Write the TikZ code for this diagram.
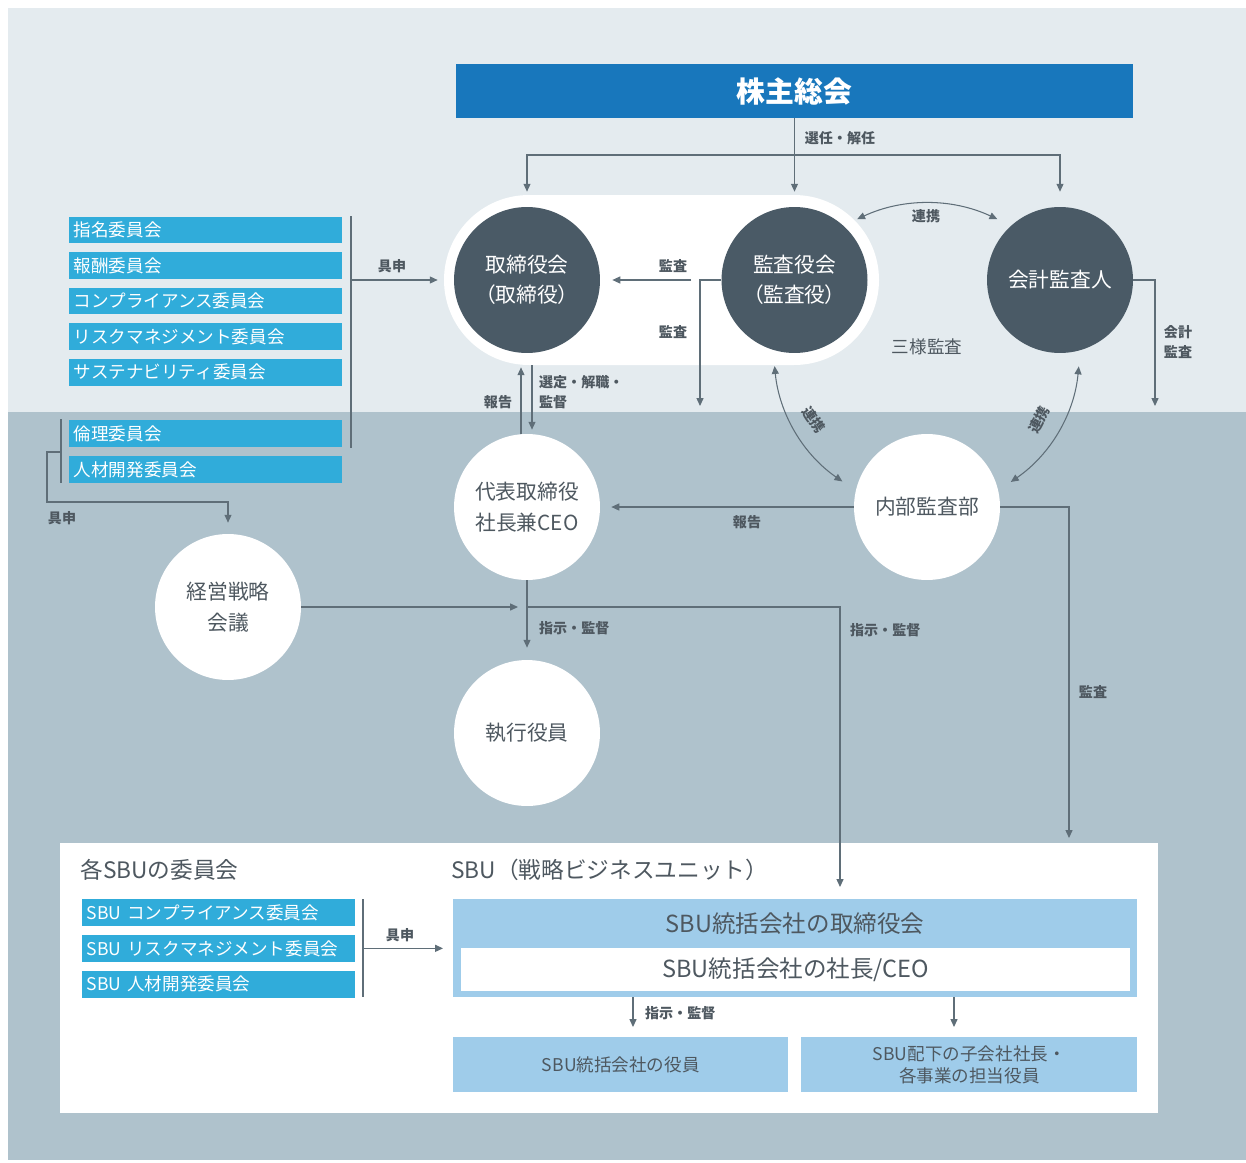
\documentclass[tikz,border=0pt]{standalone}
\usepackage{fontspec}
\setmainfont{Noto Sans CJK JP}
\newfontfamily\jpprop{Noto Sans CJK JP}[RawFeature=+palt]
\usetikzlibrary{arrows.meta,positioning}
\definecolor{topbg}{HTML}{E4EBEF}
\definecolor{lowbg}{HTML}{AFC2CC}
\definecolor{headblue}{HTML}{1877BC}
\definecolor{cmtblue}{HTML}{30ACDA}
\definecolor{darkgrey}{HTML}{4A5A66}
\definecolor{sbublue}{HTML}{9FCCEA}
\definecolor{txtgrey}{HTML}{4E5860}
\definecolor{lngrey}{HTML}{5F6E78}
\tikzset{
  ln/.style={draw=lngrey, line width=0.6pt},
  tip/.style={ln, -{Triangle[length=4.5pt,width=4pt]}},
  tw/.style={ln, {Triangle[length=4.5pt,width=4pt]}-{Triangle[length=4.5pt,width=4pt]}},
  headbox/.style={fill=headblue, text=white, minimum width=13.54cm, minimum height=1.08cm, inner sep=0pt, font=\fontsize{16.4}{18}\selectfont\bfseries},
  darkcirc/.style={circle, fill=darkgrey, text=white, minimum size=2.92cm, inner sep=0pt, align=center, font=\jpprop\fontsize{11.8}{17}\selectfont},
  whitecirc/.style={circle, fill=white, text=txtgrey, minimum size=2.92cm, inner sep=0pt, align=center, font=\fontsize{11.8}{17.5}\selectfont},
  cmt/.style={fill=cmtblue, text=white, anchor=west, minimum height=0.54cm, inner ysep=0pt, inner xsep=0.09cm, text width=5.28cm, align=left, font=\fontsize{10}{12}\selectfont},
  lbl/.style={text=txtgrey, inner sep=1pt, font=\fontsize{8}{11.3}\selectfont\bfseries},
  sectitle/.style={text=txtgrey, anchor=west, inner sep=0pt, font=\fontsize{12.9}{15}\selectfont},
  sbubox/.style={fill=sbublue, text=txtgrey, anchor=north west, inner sep=0pt, align=center},
  boardtxt/.style={text=txtgrey, font=\fontsize{13.4}{16}\selectfont},
  smalltxt/.style={font=\fontsize{10}{13}\selectfont}
}
\begin{document}
\begin{tikzpicture}[x=0.02cm, y=-0.02cm]
\useasboundingbox (0,0) rectangle (1246,1162);
% background bands
\fill[topbg] (8,8) rectangle (1246,412);
\fill[lowbg] (8,412) rectangle (1246,1160);
\fill[white, rounded corners=1.7cm] (444,195) rectangle (879,365);
\fill[white] (60,843) rectangle (1158,1113);

% main bodies
\node[headbox] (kabu) at (794.5,91) {株主総会};
\node[darkcirc] (tori) at (527,280) {取締役会\\（取締役）};
\node[darkcirc] (kansa) at (794.5,280) {監査役会\\（監査役）};
\node[darkcirc] (kaikei) at (1060,280) {会計監査人};
\node[whitecirc] (ceo) at (527,507) {代表取締役\\社長兼CEO};
\node[whitecirc] (naibu) at (927,507) {内部監査部};
\node[whitecirc] (keiei) at (228,607) {経営戦略\\会議};
\node[whitecirc] (shikkou) at (527,733) {執行役員};

% committees
\foreach \t [count=\i] in {指名委員会,報酬委員会,コンプライアンス委員会,リスクマネジメント委員会,サステナビリティ委員会}
  \node[cmt] (c\i) at (69,194.5+35.5*\i) {\t};
\node[cmt] (c6) at (69,433.5) {倫理委員会};
\node[cmt] (c7) at (69,469.5) {人材開発委員会};

% SBU part
\node[sectitle] (sbucmt) at (80,870) {各SBUの委員会};
\node[sectitle] (sbutitle) at (451,870) {SBU（戦略ビジネスユニット）};
\node[cmt] (s1) at (82,912.5) {SBU コンプライアンス委員会};
\node[cmt] (s2) at (82,948.5) {SBU リスクマネジメント委員会};
\node[cmt] (s3) at (82,984) {SBU 人材開発委員会};
\node[sbubox, minimum width=13.68cm, minimum height=1.96cm] (sbuboard) at (453,899) {};
\node[boardtxt] (boardname) at (795,924) {SBU統括会社の取締役会};
\node[boardtxt, fill=white, anchor=north west, minimum width=13.38cm, minimum height=0.86cm, inner sep=0pt] (sbuceo) at (461,948) {SBU統括会社の社長/CEO};
\node[sbubox, smalltxt, minimum width=6.7cm, minimum height=1.1cm] (sbuoff) at (453,1037) {SBU統括会社の役員};
\node[sbubox, smalltxt, minimum width=6.72cm, minimum height=1.1cm] (sbusub) at (801,1037) {SBU配下の子会社社長・\\各事業の担当役員};

% connectors
\coordinate (selbar) at (794.5,155);
\draw[tip, shorten >=0.3cm] (kabu.south) -- (kansa.north);
\draw[tip, shorten >=0.3cm] (selbar) -| (tori.north);
\draw[tip, shorten >=0.3cm] (selbar) -| (kaikei.north);
\draw[tw, shorten <=0.3cm, shorten >=0.3cm] (kansa.48) to[bend left=25] (kaikei.132);
\draw[tip, shorten <=0.6cm, shorten >=0.24cm] (kansa.west) -- (tori.east);
\coordinate (kdown) at (700,406);
\draw[tip] (kansa.west) -| (kdown);
\coordinate (kkdown) at (1155,406);
\draw[tip] (kaikei.east) -| (kkdown);
\draw[tw, shorten <=0.32cm, shorten >=0.32cm] (kansa.253) to[bend right=25] (naibu.167);
\draw[tw, shorten <=0.32cm, shorten >=0.3cm] (kaikei.286) to[bend left=25] (naibu.13);

\coordinate (br1t) at (351,216);
\coordinate (br1b) at (351,448);
\draw[ln] (br1t) -- (br1b);
\draw[tip, shorten >=0.32cm] (br1t |- tori) -- (tori.west);
\coordinate (br2t) at (61,419);
\coordinate (br2b) at (61,483);
\coordinate (br2m) at (61,452);
\coordinate (br2c) at (47,502);
\draw[ln] (br2t) -- (br2b);
\draw[tip, shorten >=0.22cm] (br2m) -| (br2c) -| (keiei.north);

\draw[tip, shorten >=0.28cm] ([xshift=-0.12cm]ceo.north) -- ([xshift=-0.12cm]tori.south);
\draw[tip, shorten <=0.24cm, shorten >=0.08cm] ([xshift=0.1cm]tori.south) -- ([xshift=0.1cm]ceo.north);
\draw[tip, shorten >=0.22cm] (naibu.west) -- (ceo.east);
\coordinate (naibudown) at (1069,838);
\draw[tip] (naibu.east) -| (naibudown);
\draw[tip, shorten >=0.18cm] (keiei.east) -- (keiei.east -| ceo);
\draw[tip, shorten >=0.24cm] (ceo.south) -- (shikkou.north);
\coordinate (sbuin) at (840,887);
\draw[tip] (keiei.east -| ceo) -| (sbuin);

\coordinate (br3t) at (363,899);
\coordinate (br3b) at (363,997);
\draw[ln] (br3t) -- (br3b);
\draw[tip, shorten >=0.2cm] (br3t |- sbuboard.west) -- (sbuboard.west);
\coordinate (d1) at (633,997);
\coordinate (d2) at (954,997);
\draw[tip, shorten >=0.2cm] (d1) -- (d1 |- sbuoff.north);
\draw[tip, shorten >=0.2cm] (d2) -- (d2 |- sbusub.north);

% labels
\node[lbl] at (840,138) {選任・解任};
\node[lbl] at (673,266) {監査};
\node[lbl] at (673,332) {監査};
\node[lbl] at (926,216) {連携};
\node[text=txtgrey, font=\fontsize{10}{12}\selectfont] at (927,347) {三様監査};
\node[lbl, align=left] at (1178,342) {会計\\監査};
\node[lbl] at (392,266) {具申};
\node[lbl] at (62,518) {具申};
\node[lbl] at (498,402) {報告};
\node[lbl, align=left, anchor=west] at (537,392) {選定・解職・\\監督};
\node[lbl, rotate=-56, inner sep=0pt] at (814,420) {連携};
\node[lbl, rotate=62, inner sep=0pt] at (1039,420) {連携};
\node[lbl] at (747,522) {報告};
\node[lbl, anchor=west] at (537,628) {指示・監督};
\node[lbl, anchor=west] at (848,630) {指示・監督};
\node[lbl] at (1093,692) {監査};
\node[lbl] at (400,935) {具申};
\node[lbl, anchor=west] at (643,1013) {指示・監督};
\end{tikzpicture}
\end{document}
